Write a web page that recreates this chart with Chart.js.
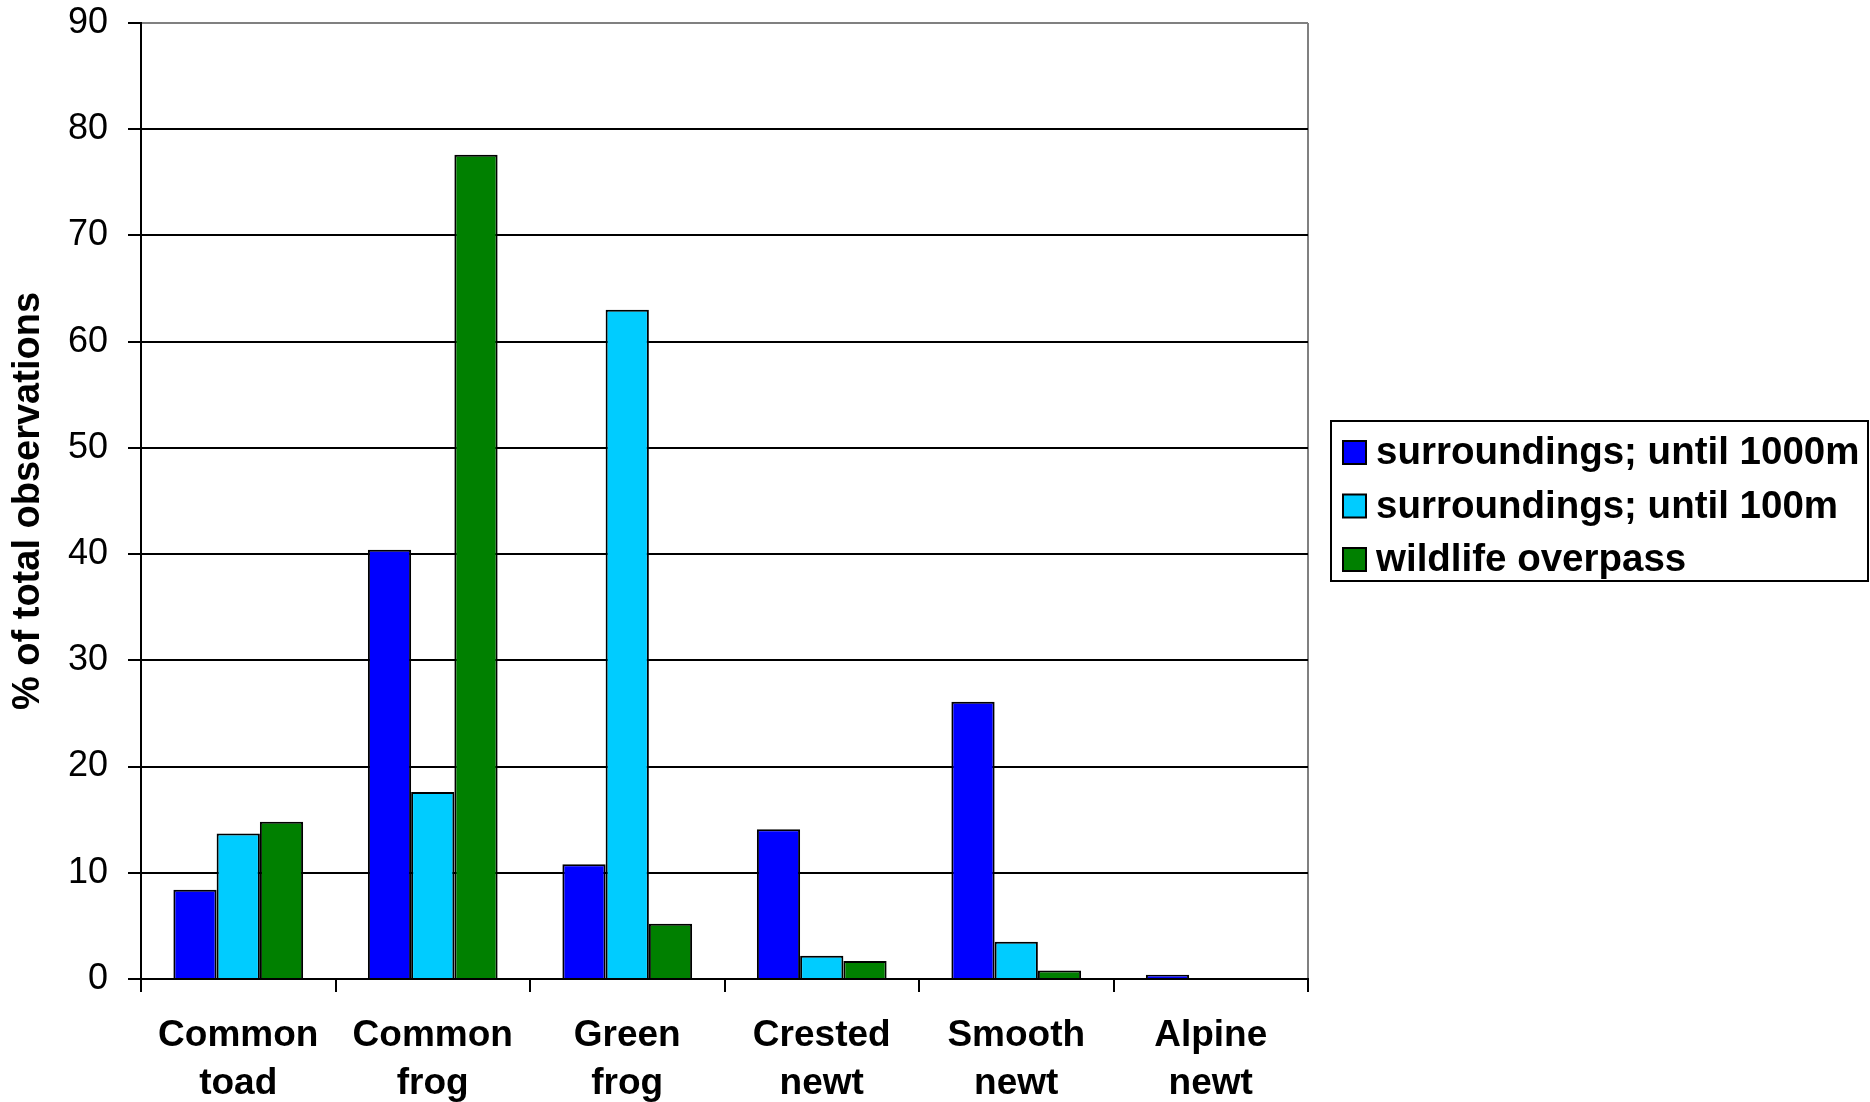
<!DOCTYPE html>
<html>
<head>
<meta charset="utf-8">
<script src="https://cdn.jsdelivr.net/npm/chart.js@4.4.1/dist/chart.umd.min.js"></script>
<style>
  html, body { margin: 0; padding: 0; background: #fff; }
  #chart { display: block; }
</style>
</head>
<body>
<canvas id="chart" width="1870" height="1102"></canvas>
<script>
// species on the x axis (two-line labels)
const species = [
  ['Common', 'toad'],
  ['Common', 'frog'],
  ['Green', 'frog'],
  ['Crested', 'newt'],
  ['Smooth', 'newt'],
  ['Alpine', 'newt']
];

// % of total observations per zone
const until1000m = [8.4, 40.4, 10.8, 14.1, 26.1, 0.4];
const until100m = [13.7, 17.6, 63.0, 2.2, 3.5, 0];
const overpass = [14.8, 77.6, 5.2, 1.7, 0.8, 0];

const seriesNames = ['surroundings; until 1000m', 'surroundings; until 100m', 'wildlife overpass'];
const seriesColors = ['#0000ff', '#00ccff', '#008000'];

const yTicks = [0, 10, 20, 30, 40, 50, 60, 70, 80, 90];

const FONT = "'Liberation Sans', Arial, sans-serif";

//legend with a frame round it, placed right of the plot
const boxedLegend = {
  id: 'boxedLegend',
  afterDraw(chart) {
    const ctx = chart.ctx;
    const area = chart.chartArea;
    const left = area.right + 23;
    const right = chart.width - 2;
    const midY = (area.top + area.bottom) / 2;
    const rowH = 53.5;
    const sets = chart.data.datasets;
    const top = midY - 80;
    const bottom = midY + 80;

    ctx.save();
    ctx.strokeStyle = '#000';
    ctx.lineWidth = 2;
    ctx.strokeRect(left, top, right - left, bottom - top);

    ctx.font = 'bold 38.5px ' + FONT;
    ctx.textBaseline = 'middle';
    ctx.fillStyle = '#000';
    sets.forEach((ds, i) => {
      // rows sit a little below the frame's centre
      const cy = midY + 5 + (i - 1) * rowH;
      ctx.fillStyle = ds.backgroundColor;
      ctx.fillRect(left + 12, cy - 11.5, 23, 23);
      ctx.lineWidth = 2;
      ctx.strokeStyle = '#000';
      ctx.strokeRect(left + 12, cy - 11.5, 23, 23);
      ctx.fillStyle = '#000';
      ctx.fillText(ds.label, left + 45, cy + 1);
    });
    ctx.restore();
  }
};

const seriesData = [until1000m, until100m, overpass];

new Chart(document.getElementById('chart'), {
  type: 'bar',
  data: {
    labels: species,
    datasets: seriesData.map((vals, i) => ({
      label: seriesNames[i],
      data: vals,
      backgroundColor: seriesColors[i],
      borderColor: '#000',
      borderWidth: 2,
      borderSkipped: 'start',
      categoryPercentage: 0.667,
      barPercentage: 1
    }))
  },
  options: {
    responsive: false,
    animation: false,
    devicePixelRatio: 1,
    layout: {
      padding: { top: 23, right: 562, bottom: 0, left: 0 }
    },
    plugins: {
      legend: { display: false },
      tooltip: { enabled: false }
    },
    scales: {
      x: {
        offset: true,
        afterFit(scale) { scale.height = 123; },
        grid: {
          offset: true,
          drawOnChartArea: true,
          color: ctx => (ctx.tick ? 'rgba(0,0,0,0)' : '#808080'),
          lineWidth: 2,
          tickColor: '#000',
          tickLength: 13,
          tickWidth: 2
        },
        border: { color: '#000', width: 2 },
        ticks: {
          color: '#000',
          padding: 19,
          maxRotation: 0,
          autoSkip: false,
          font: { family: FONT, size: 37, weight: 'bold', lineHeight: 1.32 }
        }
      },
      y: {
        min: 0,
        max: 90,
        afterFit(scale) {
          scale.width = 141;
          scale.paddingTop = 0;
          scale.paddingBottom = 0;
        },
        afterBuildTicks(scale) {
          scale.ticks = yTicks.map(v => ({ value: v }));
        },
        grid: {
          color: ctx => (ctx.tick && ctx.tick.value === 90 ? '#808080' : '#000'),
          lineWidth: 2,
          tickColor: '#000',
          tickLength: 13,
          tickWidth: 2
        },
        border: { color: '#000', width: 2 },
        ticks: {
          color: '#000',
          padding: 20,
          font: { family: FONT, size: 36 }
        },
        title: {
          display: true,
          text: '% of total observations',
          color: '#000',
          padding: { top: 6, bottom: 0 },
          font: { family: FONT, size: 38, weight: 'bold', lineHeight: 1.2 }
        }
      }
    }
  },
  plugins: [boxedLegend]
});
</script>
</body>
</html>
